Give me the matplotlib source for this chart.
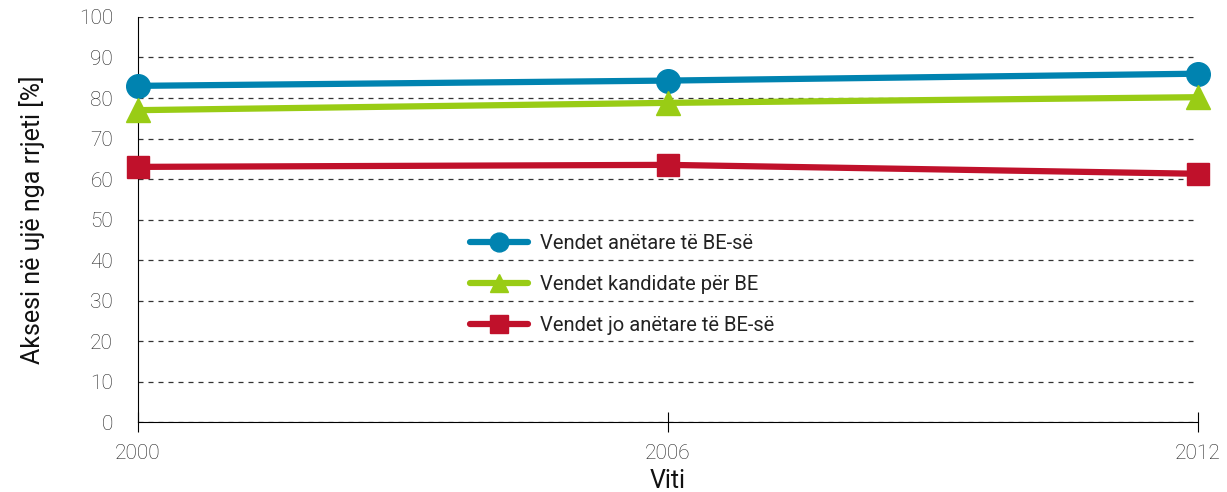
import matplotlib.pyplot as plt

years = [2000, 2006, 2012]
be_members = [83.0, 84.3, 86.0]
be_candidates = [77.0, 78.8, 80.2]
non_members = [63.0, 63.5, 61.3]

labels = ['Vendet anëtare të BE-së', 'Vendet kandidate për BE', 'Vendet jo anëtare të BE-së']
colors = ['#0083b0', '#99cc15', '#c0112b']
markers = ['o', '^', 's']

plt.rcParams['font.family'] = ['Roboto', 'DejaVu Sans']
plt.rcParams['font.weight'] = 'light'

fig = plt.figure(figsize=(12.27, 4.92), dpi=100)
ax = fig.add_axes([0.1125, 0.142, 0.8635, 0.8235])

for vals, lab, col, mk in zip([be_members, be_candidates, non_members], labels, colors, markers):
    ax.plot(years, vals, color=col, lw=4.5, marker=mk, markersize=17 if mk != 's' else 16,
            label=lab, clip_on=False, zorder=3, solid_capstyle='round')

ax.set_xlim(2000, 2012)
ax.set_ylim(0, 100)
ax.set_xticks(years)
ax.set_yticks(range(0, 101, 10))
ax.yaxis.grid(True, linestyle=(0, (4, 4)), color='#333333', lw=0.9)
ax.set_axisbelow(True)
ax.spines['top'].set_visible(False)
ax.spines['right'].set_visible(False)
ax.spines['left'].set_color('black')
ax.spines['bottom'].set_color('black')
ax.tick_params(axis='y', length=0, pad=18, labelsize=15, labelcolor='#222222')
ax.tick_params(axis='x', direction='inout', length=14, pad=9, labelsize=15, labelcolor='#222222')

ax.set_xlabel('Viti', fontsize=18, labelpad=4, color='#111111', fontweight='normal')
ax.set_ylabel('Aksesi në ujë nga rrjeti [%]', fontsize=18, labelpad=24, color='#111111',
              fontweight='normal')

leg = ax.legend(loc='upper left', bbox_to_anchor=(0.313, 0.465), frameon=False,
                prop={'size': 14.5, 'weight': 'normal'},
                handlelength=2.9, labelspacing=1.1, borderaxespad=0, borderpad=0,
                handletextpad=0.6, markerscale=0.8)
for t in leg.get_texts():
    t.set_color('#222222')

plt.savefig('out.png', dpi=100)
